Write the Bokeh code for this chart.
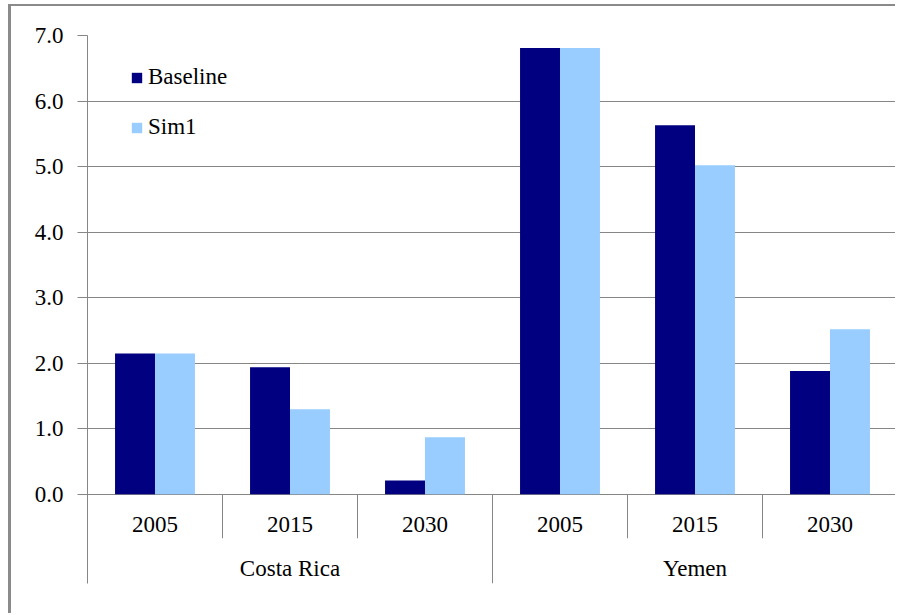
from bokeh.plotting import figure
from bokeh.models import (FactorRange, FixedTicker, Legend, LegendItem,
                          ColumnDataSource, NumeralTickFormatter, Range1d)
from bokeh.transform import dodge
from bokeh.core.properties import value
from bokeh.embed import file_html
from bokeh.resources import INLINE

# ---- data ----
countries = ["Costa Rica", "Costa Rica", "Costa Rica", "Yemen", "Yemen", "Yemen"]
years = ["2005", "2015", "2030", "2005", "2015", "2030"]
baseline = [2.15, 1.94, 0.21, 6.81, 5.63, 1.88]
sim1 = [2.15, 1.30, 0.87, 6.81, 5.02, 2.52]
y_ticks = [0, 1, 2, 3, 4, 5, 6, 7]
series_names = ["Baseline", "Sim1"]
series_colors = ["#000080", "#99CCFF"]

FONT = value("Liberation Serif")
GRID = "#868686"

factors = list(zip(countries, years))
group_names = list(dict.fromkeys(countries))
# middle category of each group (each group holds 3 years) -> group label position
group_mid = [factors[countries.index(g) + 1] for g in group_names]

x_range = FactorRange(*factors, factor_padding=0, group_padding=0, range_padding=0)
y_range = Range1d(-1.36, 7.0)

p = figure(width=887, height=609, x_range=x_range, y_range=y_range,
           output_backend="svg", toolbar_location=None,
           min_border_left=76, min_border_right=1, min_border_top=29, min_border_bottom=32,
           background_fill_color="white", border_fill_color="white")
p.styles = {"border-left": "3px solid #8a8a8a", "border-top": "2px solid #8a8a8a",
            "margin-left": "8px", "margin-top": "4px"}
p.outline_line_color = None
p.xaxis.visible = False
p.xgrid.visible = False

# y axis
ya = p.yaxis[0]
ya.ticker = FixedTicker(ticks=y_ticks)
ya.formatter = NumeralTickFormatter(format="0.0")
ya.axis_line_color = GRID
ya.major_tick_line_color = GRID
ya.major_tick_out = 10
ya.major_tick_in = 0
ya.minor_tick_line_color = None
ya.major_label_standoff = 14
ya.major_label_text_font = "Liberation Serif"
ya.major_label_text_font_size = "23px"
ya.major_label_text_color = "black"
p.ygrid.ticker = FixedTicker(ticks=y_ticks)
p.ygrid.grid_line_color = GRID
p.ygrid.grid_line_width = 1

src = ColumnDataSource(dict(x=factors, baseline=baseline, sim1=sim1))
r1 = p.vbar(x=dodge("x", -0.148, range=x_range), top="baseline", bottom=0, width=0.296,
            source=src, fill_color=series_colors[0], line_color=None)
r2 = p.vbar(x=dodge("x", 0.148, range=x_range), top="sim1", bottom=0, width=0.296,
            source=src, fill_color=series_colors[1], line_color=None)

# category separators
short_x, long_x = [], []
for i in range(1, len(factors)):
    if countries[i] != countries[i - 1]:
        long_x.append(factors[i])
    else:
        short_x.append(factors[i])
sep_short = ColumnDataSource(dict(x=short_x))
sep_long = ColumnDataSource(dict(x=long_x))
sep_end = ColumnDataSource(dict(x=[factors[-1]]))
p.segment(x0=dodge("x", -0.5, range=x_range), x1=dodge("x", -0.5, range=x_range),
          y0=0, y1=-0.67, source=sep_short, line_color=GRID, line_width=1)
p.segment(x0=dodge("x", -0.5, range=x_range), x1=dodge("x", -0.5, range=x_range),
          y0=0, y1=-1.36, source=sep_long, line_color=GRID, line_width=1)
p.segment(x0=dodge("x", 0.49, range=x_range), x1=dodge("x", 0.49, range=x_range),
          y0=0, y1=-1.36, source=sep_end, line_color=GRID, line_width=1)

# category labels
lab_src = ColumnDataSource(dict(x=factors, t=years))
p.text(x="x", y=-0.46, text="t", source=lab_src, text_font=FONT, text_font_size="23px",
       text_align="center", text_baseline="middle", text_color="black")
grp_src = ColumnDataSource(dict(x=group_mid, t=group_names))
p.text(x="x", y=-1.13, text="t", source=grp_src, text_font=FONT, text_font_size="23px",
       text_align="center", text_baseline="middle", text_color="black")

# legend
legend = Legend(items=[LegendItem(label=series_names[0], renderers=[r1]),
                       LegendItem(label=series_names[1], renderers=[r2])],
                location=(43, 443), orientation="vertical")
legend.margin = 0
legend.padding = 0
legend.border_line_color = None
legend.background_fill_alpha = 0
legend.glyph_width = 13
legend.glyph_height = 13
legend.label_standoff = 5
legend.label_height = 26
legend.spacing = 24
legend.label_text_font = "Liberation Serif"
legend.label_text_font_size = "23px"
legend.label_text_color = "black"
p.add_layout(legend, "center")

open("out.html", "w").write(file_html(p, INLINE))
